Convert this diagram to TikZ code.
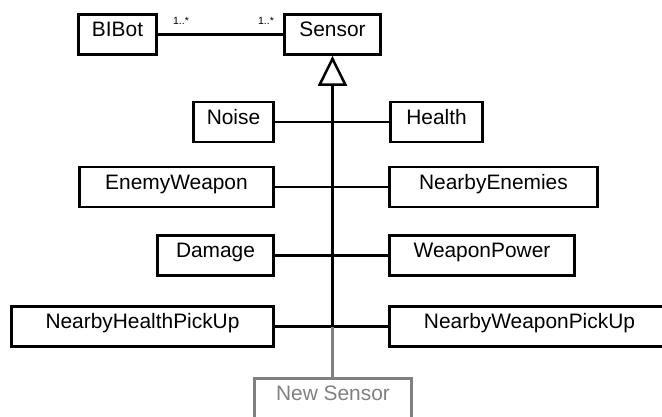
\documentclass[tikz,border=0pt]{standalone}
\usepackage{fontspec}
\setmainfont{Liberation Sans}
\usetikzlibrary{arrows.meta}
\definecolor{ghost}{RGB}{128,128,128}
\begin{document}
\begin{tikzpicture}[x=1pt,y=-1pt,
  cls/.style={draw, line width=2.8pt, inner sep=0pt, minimum height=40pt,
    text height=16pt, text depth=12pt, font=\fontsize{20.9}{24}\selectfont},
  link/.style={line width=2.8pt},
  mult/.style={font=\fontsize{10.5}{12}\selectfont, anchor=base, inner sep=0pt}]
\useasboundingbox (0,0) rectangle (662,416);
% top
\node[cls, minimum width=78pt] (bot) at (117.5,34.5) {BIBot};
\node[cls, minimum width=96pt] (sensor) at (332.5,34.5) {Sensor};
\draw[link] (bot.east) -- (sensor.west);
\node[mult] (m1) at (181,24) {1..*};
\node[mult] (m2) at (266,24) {1..*};
% rows
\node[cls, minimum width=80pt] (noise) at (233.5,122) {Noise};
\node[cls, minimum width=92pt] (health) at (436.5,122) {Health};
\node[cls, minimum width=194pt] (enemyw) at (176.5,187) {EnemyWeapon};
\node[cls, minimum width=208pt] (nearen) at (493.5,187) {NearbyEnemies};
\node[cls, minimum width=116pt] (damage) at (215.5,255.5) {Damage};
\node[cls, minimum width=185pt] (wpower) at (482,255.5) {WeaponPower};
\node[cls, minimum width=262pt] (nhp) at (142.5,326.5) {NearbyHealthPickUp};
\node[cls, minimum width=280pt] (nwp) at (529.5,326.5) {NearbyWeaponPickUp};
\node[cls, draw=ghost, text=ghost, minimum width=157pt] (newsensor) at (333,398.5) {New Sensor};
% connectors
\draw[link] (noise.east) -- (health.west);
\draw[link] (enemyw.east) -- (nearen.west);
\draw[link] (damage.east) -- (wpower.west);
\draw[link] (nhp.east) -- (nwp.west);
\coordinate (trunk) at (sensor.south |- nhp.east);
\draw[link, -{Triangle[open, length=30pt, width=29pt, fill=white, line width=2.5pt]}] (trunk) -- (sensor.south);
\draw[link, draw=ghost] (trunk) -- (trunk |- newsensor.north);
\end{tikzpicture}
\end{document}
